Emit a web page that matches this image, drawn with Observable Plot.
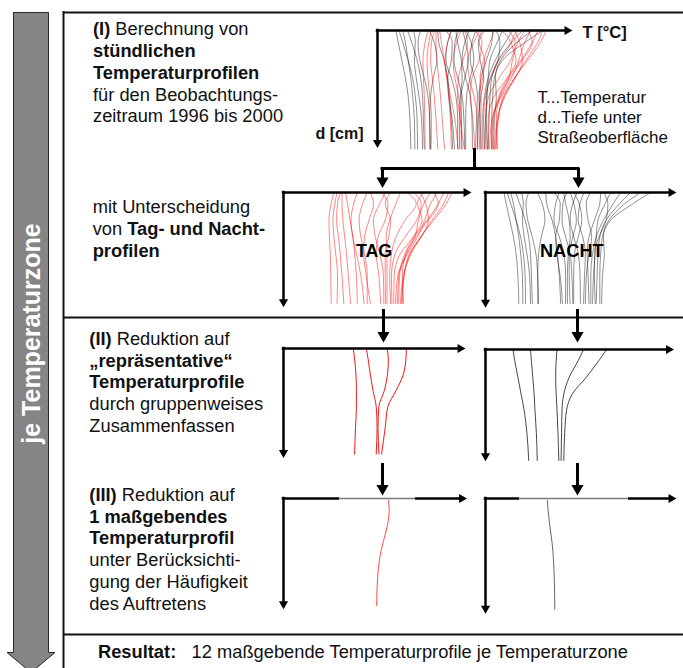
<!DOCTYPE html>
<html><head><meta charset="utf-8">
<script src="https://cdn.jsdelivr.net/npm/d3@7"></script>
<script src="https://cdn.jsdelivr.net/npm/@observablehq/plot@0.6"></script>
<style>
body{margin:0;background:#fff;}
#root{position:relative;width:683px;height:668px;overflow:hidden;font-family:"Liberation Sans",Arial,sans-serif;color:#111;}
.para{position:absolute;font-size:18.3px;line-height:21.8px;white-space:nowrap;}
.para b{font-weight:700;}
</style></head><body><div id="root"></div>
<script>
// ---------- data (T in °C at each depth d in cm) ----------
const depths = [0, 4, 10, 16, 22, 30, 40];

// hourly day profiles (TAG)
const dayProfiles = [
  [11.2, 10.6, 10.1, 10.2, 10.4, 10.5, 10.6],
  [11.9, 11.4, 11.0, 11.2, 11.6, 12.0, 11.9],
  [12.7, 12.0, 11.8, 12.2, 12.6, 13.0, 13.4],
  [13.0, 13.0, 13.2, 13.6, 14.0, 14.4, 14.9],
  [13.8, 14.2, 14.8, 15.4, 15.8, 16.2, 16.4],
  [16.4, 15.6, 15.0, 15.4, 16.2, 17.2, 17.9],
  [18.6, 17.6, 16.8, 17.2, 18.0, 18.6, 18.6],
  [19.3, 20.0, 19.0, 18.0, 17.8, 18.4, 19.3],
  [21.6, 23.2, 22.6, 21.0, 20.6, 21.2, 21.6],
  [22.7, 21.4, 20.0, 20.4, 21.4, 22.2, 22.3],
  [23.8, 22.6, 23.8, 23.4, 22.6, 22.6, 22.7],
  [26.0, 25.0, 23.6, 22.8, 23.0, 23.0, 23.0],
  [27.5, 29.5, 27.0, 25.0, 24.0, 23.6, 23.8],
  [29.0, 30.6, 29.6, 27.0, 24.8, 24.0, 24.1],
  [31.2, 29.8, 30.8, 28.8, 26.0, 24.6, 24.5],
  [32.7, 31.2, 30.0, 29.2, 27.4, 25.4, 24.9],
  [34.1, 32.7, 31.4, 29.8, 27.6, 25.6, 25.3],
  [35.6, 34.4, 31.9, 29.0, 27.0, 25.8, 25.6],
  [36.7, 35.6, 33.0, 30.6, 28.4, 26.6, 26.0],
  [37.5, 36.2, 33.4, 30.4, 28.2, 26.8, 26.4],
  [33.4, 34.4, 32.2, 29.4, 27.2, 26.4, 26.7],
  [30.4, 31.6, 32.2, 30.6, 28.0, 26.8, 26.2]
];

// hourly night profiles (NACHT)
const nightProfiles = [
  [4.1, 4.6, 5.4, 6.2, 6.8, 7.2, 7.4],
  [4.8, 5.6, 6.8, 7.8, 8.4, 8.8, 8.9],
  [5.6, 6.2, 6.8, 7.4, 7.8, 8.2, 8.3],
  [6.7, 7.6, 8.8, 9.6, 10.0, 10.2, 10.4],
  [8.0, 8.4, 8.2, 8.6, 9.2, 9.8, 10.0],
  [9.6, 9.0, 9.4, 10.4, 11.2, 11.6, 11.8],
  [11.5, 12.6, 13.2, 12.4, 11.8, 11.6, 11.6],
  [13.4, 13.6, 14.8, 15.6, 16.0, 16.4, 16.7],
  [15.2, 16.6, 16.4, 15.6, 15.8, 16.6, 17.1],
  [16.4, 15.6, 15.2, 16.4, 17.4, 17.8, 17.8],
  [17.4, 17.8, 18.6, 18.8, 18.4, 18.2, 18.2],
  [18.1, 17.2, 17.0, 17.8, 18.8, 19.2, 19.4],
  [18.9, 19.6, 20.2, 19.4, 18.6, 18.6, 18.8],
  [19.6, 20.8, 21.4, 20.6, 19.8, 19.6, 19.6],
  [20.4, 19.4, 18.8, 19.6, 20.6, 21.0, 21.1],
  [21.9, 21.0, 20.6, 21.6, 22.2, 22.0, 21.8],
  [23.3, 22.4, 22.8, 23.6, 23.0, 22.4, 22.2],
  [25.6, 25.4, 24.2, 23.0, 22.6, 22.8, 23.0],
  [27.8, 26.6, 25.0, 24.6, 24.4, 24.0, 23.8],
  [30.0, 28.4, 26.2, 24.6, 23.8, 23.4, 23.4],
  [32.2, 29.8, 26.8, 25.4, 25.0, 24.8, 24.6],
  [34.4, 31.0, 27.4, 26.0, 25.6, 25.4, 25.4],
  [36.7, 32.8, 27.8, 26.2, 26.4, 26.0, 25.8],
  [26.3, 27.2, 26.8, 25.2, 24.2, 24.2, 24.4]
];

// (II) representative profiles
const dayRepresentative = [
  [15.5, 15.8, 16.1, 16.2, 16.2, 16.0, 15.8],
  [18.4, 18.8, 19.3, 19.9, 20.6, 20.8, 20.6],
  [23.0, 23.3, 23.1, 22.4, 21.2, 21.0, 21.2],
  [27.3, 27.2, 26.6, 25.0, 23.2, 22.6, 21.8]
];
const nightRepresentative = [
  [6.1, 6.5, 7.2, 7.9, 8.6, 9.2, 9.6],
  [10.0, 10.2, 10.5, 10.8, 11.0, 11.3, 11.5],
  [15.9, 15.7, 15.6, 15.7, 15.9, 16.1, 16.3],
  [21.8, 20.6, 18.6, 17.4, 17.0, 16.9, 16.8],
  [26.9, 25.2, 22.4, 19.3, 18.0, 17.6, 17.4]
];

// (III) governing profile
const dayGoverning = [[23.2, 23.5, 23.1, 22.2, 21.4, 20.9, 20.7]];
const nightGoverning = [[13.7, 13.9, 14.3, 14.8, 15.1, 15.3, 15.4]];

const legendLines = ["T...Temperatur", "d...Tiefe unter", "Straßeoberfläche"];

// ---------- helpers ----------
const root = document.getElementById("root");
const FONT = "Liberation Sans, Arial, sans-serif";
const toRows = (profiles) => profiles.flatMap((p, i) => depths.map((d, j) => ({id: i, T: p[j], d})));

const DAY = {color: "#ff0000", width: 0.8, opacity: 0.6};
const NIGHT = {color: "#000000", width: 0.8, opacity: 0.55};
const DAY2 = {color: "#ee0000", width: 1, opacity: 0.9};
const NIGHT2 = {color: "#333333", width: 1, opacity: 0.9};
const DAY3 = {color: "#ff2020", width: 0.9, opacity: 0.9};
const NIGHT3 = {color: "#444444", width: 0.9, opacity: 0.9};

function panel({ox, oy, xTip, yTip, curvePx, sets, fade}) {
  const m = 8, pxPerDeg = 4.5;
  const xLen = xTip - ox, yLen = yTip - oy;
  const tMax = xLen / pxPerDeg;
  const dPerPx = 40 / curvePx;
  const dTip = yLen * dPerPx;
  const marks = [
    ...sets.map(s => Plot.line(toRows(s.profiles), {
      x: "T", y: "d", z: "id", curve: "monotone-y",
      stroke: s.style.color, strokeWidth: s.style.width, strokeOpacity: s.style.opacity
    })),
    Plot.ruleY([0], {x1: 0, x2: tMax - 4 / pxPerDeg, stroke: "#000", strokeWidth: 2.5, strokeLinecap: "square"}),
    Plot.ruleX([0], {y1: 0, y2: dTip - 4 * dPerPx, stroke: "#000", strokeWidth: 2.5, strokeLinecap: "square"}),
    Plot.dot([0], {x: tMax, y: 0, symbol: "triangle", r: 3.4, rotate: 90, dx: -5.3, fill: "#000", stroke: "none"}),
    Plot.dot([0], {x: 0, y: dTip, symbol: "triangle", r: 3.4, rotate: 180, dy: -5.3, fill: "#000", stroke: "none"})
  ];
  if (fade) {
    marks.push(Plot.ruleY([0], {x1: fade[0] / pxPerDeg, x2: fade[1] / pxPerDeg, stroke: "#fff", strokeWidth: 3}));
    marks.push(Plot.ruleY([0], {x1: fade[0] / pxPerDeg, x2: fade[1] / pxPerDeg, stroke: "#7a7a7a", strokeWidth: 1.6}));
  }
  const chart = Plot.plot({
    width: xLen + 2 * m, height: yLen + 2 * m,
    marginLeft: m, marginRight: m, marginTop: m, marginBottom: m,
    x: {domain: [0, tMax], range: [m, m + xLen], axis: null},
    y: {domain: [0, dTip], range: [m, m + yLen], axis: null},
    style: {background: "transparent", overflow: "visible"},
    marks
  });
  chart.style.position = "absolute";
  chart.style.left = (ox - m) + "px";
  chart.style.top = (oy - m) + "px";
  root.append(chart);
}

// ---------- panels ----------
panel({ox: 377, oy: 29.5, xTip: 572, yTip: 147, curvePx: 118.5,
  sets: [{profiles: nightProfiles, style: NIGHT}, {profiles: dayProfiles, style: DAY}]});
panel({ox: 283, oy: 192.3, xTip: 471, yTip: 307, curvePx: 111,
  sets: [{profiles: dayProfiles, style: DAY}]});
panel({ox: 485, oy: 192.3, xTip: 676, yTip: 307.5, curvePx: 111,
  sets: [{profiles: nightProfiles, style: NIGHT}]});
panel({ox: 283, oy: 348, xTip: 465, yTip: 457.5, curvePx: 105.5,
  sets: [{profiles: dayRepresentative, style: DAY2}]});
panel({ox: 485, oy: 349.3, xTip: 673.5, yTip: 461, curvePx: 111,
  sets: [{profiles: nightRepresentative, style: NIGHT2}]});
panel({ox: 283, oy: 498.3, xTip: 466.5, yTip: 609, curvePx: 107, fade: [56, 132],
  sets: [{profiles: dayGoverning, style: DAY3}]});
panel({ox: 485, oy: 498.3, xTip: 676, yTip: 613.5, curvePx: 111, fade: [34, 143],
  sets: [{profiles: nightGoverning, style: NIGHT3}]});

// ---------- layout layer ----------
const grayArrow = [
  {x: 13, y: 12}, {x: 48, y: 12}, {x: 48, y: 652}, {x: 54.5, y: 652},
  {x: 30.5, y: 672}, {x: 6.5, y: 652}, {x: 13, y: 652}, {x: 13, y: 12}
];
const downHead = (xs, tip) => Plot.dot(xs, {x: d => d, y: tip, symbol: "triangle", r: 4.5, rotate: 180, dy: -7, fill: "#000", stroke: "none"});

const layout = Plot.plot({
  width: 683, height: 668, margin: 0,
  x: {domain: [0, 683], range: [0, 683], axis: null},
  y: {domain: [0, 668], range: [0, 668], axis: null},
  style: {background: "transparent", fontFamily: FONT},
  marks: [
    Plot.line(grayArrow, {x: "x", y: "y", fill: "#858585", stroke: "#2a2a2a", strokeWidth: 1}),
    Plot.text(["je Temperaturzone"], {x: 31.5, y: 333, text: d => d, rotate: -90, fontSize: 25, fontWeight: "bold", fill: "#ffffff", fontFamily: FONT}),
    Plot.ruleY([12, 317, 634], {x1: 63, x2: 683, stroke: "#111", strokeWidth: 2}),
    Plot.ruleX([63], {y1: 11, y2: 668, stroke: "#111", strokeWidth: 2}),
    // connectors
    Plot.ruleX([474], {y1: 148, y2: 168, stroke: "#000", strokeWidth: 3}),
    Plot.ruleY([168], {x1: 380.5, x2: 579.5, stroke: "#000", strokeWidth: 3}),
    Plot.ruleX([382, 578], {y1: 168, y2: 181, stroke: "#000", strokeWidth: 3}),
    downHead([382, 578], 187.5),
    Plot.ruleX([383, 577], {y1: 309, y2: 335, stroke: "#000", strokeWidth: 3}),
    downHead([383, 577], 342),
    Plot.ruleX([382, 577], {y1: 463, y2: 488, stroke: "#000", strokeWidth: 3}),
    downHead([382, 577], 495),
    // labels
    Plot.text(["T [°C]"], {x: 582, y: 37, text: d => d, textAnchor: "start", lineAnchor: "bottom", fontSize: 16.5, fontWeight: "bold", fill: "#111", fontFamily: FONT}),
    Plot.text(["d [cm]"], {x: 363, y: 138, text: d => d, textAnchor: "end", lineAnchor: "bottom", fontSize: 16, fontWeight: "bold", fill: "#111", fontFamily: FONT}),
    Plot.text(legendLines, {x: 537, y: (d, i) => 102.5 + 20 * i, text: d => d, textAnchor: "start", lineAnchor: "bottom", fontSize: 17, fill: "#111", fontFamily: FONT}),
    Plot.text(["TAG"], {x: 373.5, y: 256, text: d => d, lineAnchor: "bottom", fontSize: 17.8, fontWeight: "bold", fill: "#000", fontFamily: FONT}),
    Plot.text(["NACHT"], {x: 571.3, y: 256, text: d => d, lineAnchor: "bottom", fontSize: 18.2, fontWeight: "bold", fill: "#000", fontFamily: FONT})
  ]
});
layout.style.position = "absolute";
layout.style.left = "0px";
layout.style.top = "0px";
root.append(layout);

// ---------- paragraph text ----------
const paras = [
  {left: 93, top: 18.3, html: "<b>(I)</b> Berechnung von<br><b>stündlichen</b><br><b>Temperaturprofilen</b><br>für den Beobachtungs-<br>zeitraum 1996 bis 2000"},
  {left: 92.7, top: 196.4, html: "mit Unterscheidung<br>von <b>Tag- und Nacht-</b><br><b>profilen</b>"},
  {left: 89.3, top: 327.8, html: "<b>(II)</b> Reduktion auf<br><b>„repräsentative“</b><br><b>Temperaturprofile</b><br>durch gruppenweises<br>Zusammenfassen"},
  {left: 89.3, top: 483.8, html: "<b>(III)</b> Reduktion auf<br><b>1 maßgebendes</b><br><b>Temperaturprofil</b><br>unter Berücksichti-<br>gung der Häufigkeit<br>des Auftretens"},
  {left: 98, top: 640.8, html: "<b>Resultat:</b>"},
  {left: 191.6, top: 640.8, html: "12 maßgebende Temperaturprofile je Temperaturzone"}
];
for (const p of paras) {
  const div = document.createElement("div");
  div.className = "para";
  div.style.left = p.left + "px";
  div.style.top = p.top + "px";
  div.innerHTML = p.html;
  root.append(div);
}
</script></body></html>
